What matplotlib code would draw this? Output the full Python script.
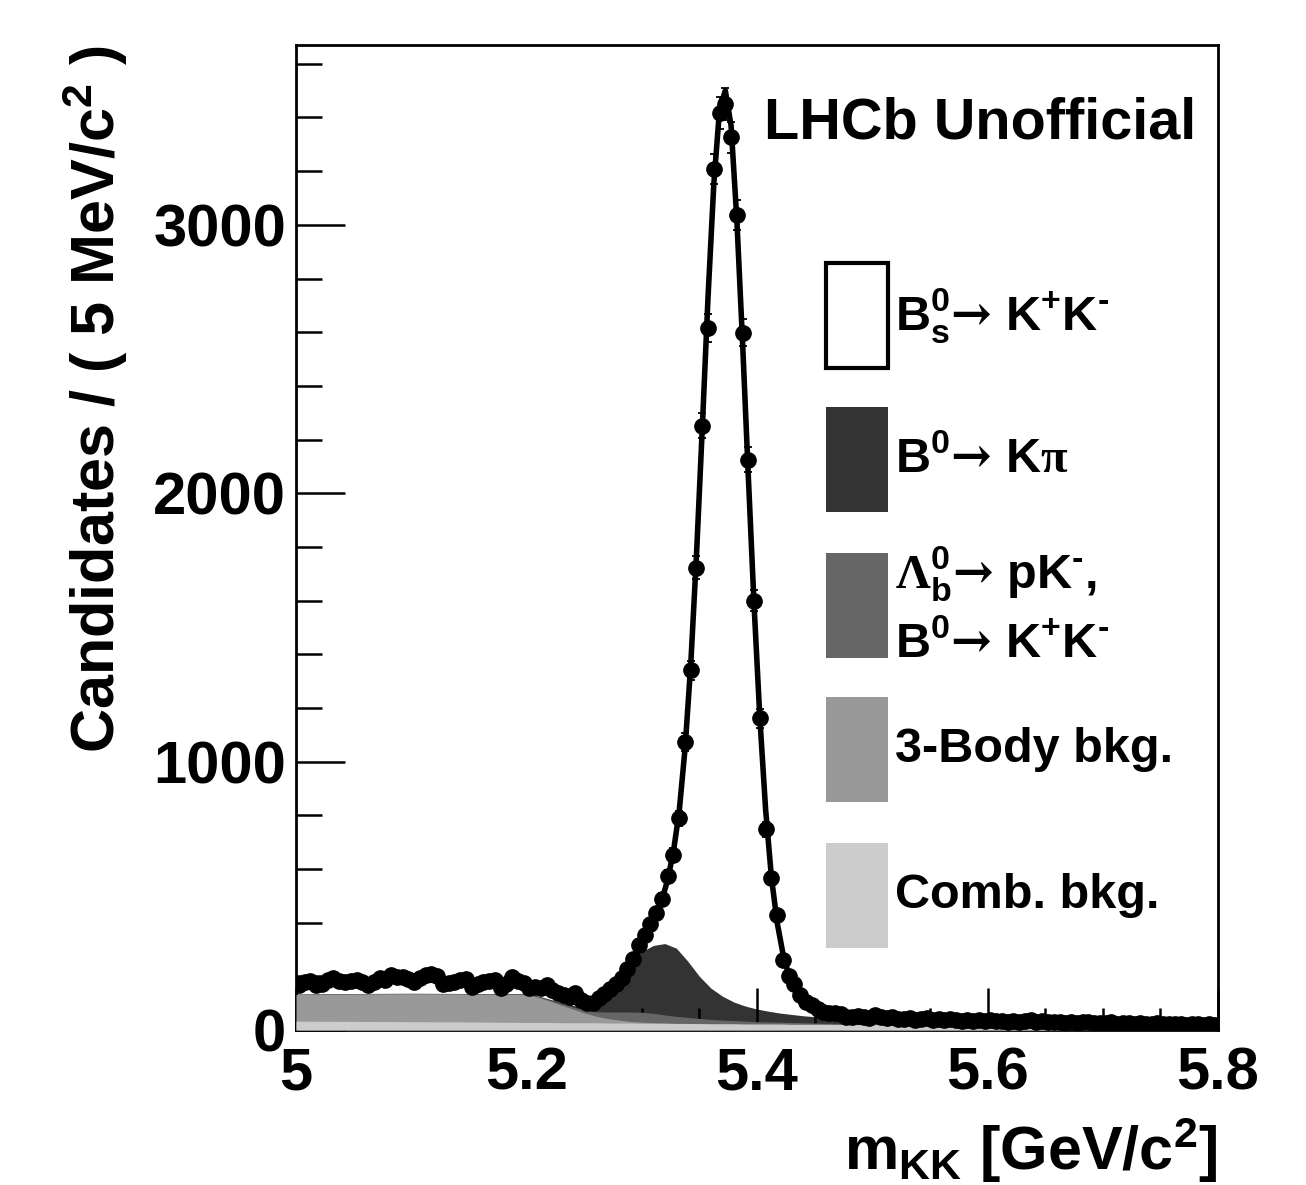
import numpy as np
import matplotlib
matplotlib.use("Agg")
import matplotlib.pyplot as plt
from matplotlib.patches import Rectangle
from matplotlib.ticker import MultipleLocator, FuncFormatter

plt.rcParams['font.family'] = ['Liberation Sans', 'DejaVu Sans']
plt.rcParams['font.weight'] = 'bold'
plt.rcParams['mathtext.fontset'] = 'custom'
plt.rcParams['mathtext.default'] = 'rm'
plt.rcParams['mathtext.rm'] = 'Liberation Sans:bold'
plt.rcParams['mathtext.it'] = 'Liberation Sans:bold'
plt.rcParams['mathtext.bf'] = 'Liberation Sans:bold'
plt.rcParams['mathtext.cal'] = 'Liberation Serif'
plt.rcParams['mathtext.sf'] = 'DejaVu Serif'

# data: candidates per 5 MeV bin, 5.0 - 5.8 GeV (160 bins)
bin_lo = 5.0
bin_w = 0.005
counts = [
    167, 178, 182, 168, 172, 185, 193, 184, 179, 183,
    186, 180, 167, 178, 193, 186, 205, 196, 197, 190,
    179, 195, 205, 207, 200, 172, 175, 180, 186, 190,
    160, 170, 179, 183, 186, 156, 170, 197, 182, 175,
    156, 162, 156, 167, 150, 138, 130, 123, 138, 112,
    100, 102, 120, 135, 152, 172, 195, 227, 264, 316,
    354, 394, 435, 488, 573, 651, 789, 1072, 1340, 1723,
    2252, 2616, 3208, 3416, 3450, 3327, 3037, 2598, 2125, 1600,
    1161, 748, 566, 428, 261, 200, 171, 130, 104, 92,
    80, 67, 65, 63, 58, 50, 47, 52, 48, 45,
    55, 47, 44, 48, 42, 40, 45, 39, 41, 43,
    38, 40, 36, 42, 37, 35, 39, 34, 37, 33,
    36, 32, 35, 31, 34, 30, 33, 36, 29, 32,
    30, 28, 31, 27, 30, 26, 29, 28, 25, 27,
    26, 29, 24, 27, 25, 23, 26, 24, 22, 25,
    23, 21, 24, 22, 20, 23, 21, 19, 22, 20,
]

# total fit curve
fit_x_lo = [5.00, 5.05, 5.10, 5.15, 5.18, 5.20, 5.22]
fit_lo = [181, 184, 186, 184, 178, 168, 152]
fit_k_first = 46  # fit_mid is given at bin centres 46..90
fit_mid = [
    135, 124, 114, 106, 102, 104, 113, 130, 152, 177,
    205, 234, 266, 303, 343, 385, 430, 485, 560, 665,
    815, 1045, 1360, 1770, 2240, 2730, 3150, 3430, 3500, 3370,
    3020, 2560, 2060, 1580, 1160, 820, 570, 400, 285, 205,
    155, 122, 100, 86, 76,
]
fit_x_hi = [5.46, 5.47, 5.48, 5.50, 5.55, 5.60, 5.65, 5.70, 5.75, 5.80]
fit_hi = [66, 58, 53, 47, 40, 34, 30, 26, 23, 20]

# stacked background components (cumulative levels)
comp_x = [5.00, 5.05, 5.10, 5.15, 5.20, 5.21, 5.22, 5.23, 5.24, 5.25,
          5.26, 5.27, 5.28, 5.29, 5.30, 5.31, 5.32, 5.33, 5.34, 5.35,
          5.36, 5.37, 5.38, 5.39, 5.40, 5.41, 5.42, 5.43, 5.44, 5.46,
          5.48, 5.50, 5.55, 5.60, 5.65, 5.70, 5.75, 5.80]
comb_level = [33, 32, 31, 30, 28, 28, 28, 27, 27, 27,
              27, 26, 26, 26, 25, 25, 25, 24, 24, 24,
              23, 23, 23, 22, 22, 22, 22, 21, 21, 21,
              20, 20, 19, 18, 17, 16, 15, 14]
threebody_level = [132, 134, 135, 134, 132, 122, 108, 93, 78, 64,
                   52, 43, 37, 32, 29, 27, 26, 25, 24.5, 24,
                   23, 23, 23, 22, 22, 22, 22, 21, 21, 21,
                   20, 20, 19, 18, 17, 16, 15, 14]
lambdab_level = [133, 135, 136, 135, 134, 125, 112, 99, 86, 75,
                 68, 67, 67, 67, 66, 62, 56, 51, 47, 43,
                 39, 37, 35, 33, 31, 30, 29, 28, 27, 25,
                 24, 23, 21, 19.5, 18, 16.5, 15.3, 14.2]
kpi_level = [134, 136, 137, 136, 135, 127, 115, 103, 92, 82,
             102, 148, 200, 252, 292, 315, 322, 305, 256, 200,
             156, 126, 104, 89, 78, 70, 63, 58, 53, 46,
             41, 37, 30, 25, 21.5, 18.5, 16.5, 15]

arrow = r'\mathsf{→}'
legend_labels = [
    r'$B^{0}_{s}' + arrow + r'$ $K^{+}K^{\text{-}}$',
    r'$B^{0}' + arrow + r'$ $K\mathcal{\pi}$',
    r'$\mathcal{\Lambda}^{0}_{b}' + arrow + r'$ $pK^{\text{-}}$,' + '\n'
    + r'$B^{0}' + arrow + r'$ $K^{+}K^{\text{-}}$',
    '3-Body bkg.',
    'Comb. bkg.',
]
legend_colors = ['white', '#333333', '#666666', '#999999', '#cccccc']

W, H = 1306, 1185
fig = plt.figure(figsize=(W / 100, H / 100), dpi=100)
ax = fig.add_axes([296 / W, (H - 1030) / H, 922 / W, 985 / H])

counts = np.array(counts, dtype=float)
centres = bin_lo + bin_w * (np.arange(len(counts)) + 0.5)

fit_x = np.concatenate([fit_x_lo, centres[fit_k_first:fit_k_first + len(fit_mid)], fit_x_hi])
fit_y = np.concatenate([fit_lo, fit_mid, fit_hi])

ax.fill_between(comp_x, 0, kpi_level, color='#333333', lw=0, zorder=1)
ax.fill_between(comp_x, 0, lambdab_level, color='#666666', lw=0, zorder=2)
ax.fill_between(comp_x, 0, threebody_level, color='#999999', lw=0, zorder=3)
ax.fill_between(comp_x, 0, comb_level, color='#cccccc', lw=0, zorder=4)

ax.plot(fit_x, fit_y, color='black', lw=4, zorder=5, solid_joinstyle='round')
ax.errorbar(centres, counts, yerr=np.sqrt(counts), fmt='o', color='black',
            ms=11, elinewidth=1.3, capsize=3, capthick=1.3, zorder=6)

ax.set_xlim(5.0, 5.8)
ax.set_ylim(0, 3670)

ax.xaxis.set_major_locator(MultipleLocator(0.2))
ax.xaxis.set_minor_locator(MultipleLocator(0.05))
ax.yaxis.set_major_locator(MultipleLocator(1000))
ax.yaxis.set_minor_locator(MultipleLocator(200))
ax.xaxis.set_major_formatter(FuncFormatter(lambda v, p: '%g' % round(v, 2)))
ax.yaxis.set_major_formatter(FuncFormatter(lambda v, p: '%d' % v))
ax.tick_params(axis='both', which='both', direction='in', width=1.8,
               labelsize=43, top=False, right=False)
ax.tick_params(axis='x', which='major', length=30, pad=12)
ax.tick_params(axis='x', which='minor', length=16)
ax.tick_params(axis='y', which='major', length=35, pad=7)
ax.tick_params(axis='y', which='minor', length=19)
for s in ax.spines.values():
    s.set_linewidth(2)

ax.set_ylabel('Candidates / ( 5 MeV/c$^{2}$ )', fontsize=44, fontweight='bold')
ax.yaxis.set_label_coords(-0.18, 1.0)
ax.yaxis.label.set_horizontalalignment('right')
ax.set_xlabel('m$_{KK}$ [GeV/c$^{2}$]', fontsize=44, fontweight='bold')
ax.xaxis.set_label_coords(1.0, -0.087)
ax.xaxis.label.set_horizontalalignment('right')

ax.text(0.508, 0.905, 'LHCb Unofficial', transform=ax.transAxes,
        fontsize=41.5, fontweight='bold', ha='left', va='baseline')

# legend drawn by hand, ROOT style
box_x, box_w, box_h = 0.575, 0.067, 0.1066
box_bottoms = [0.672, 0.526, 0.378, 0.2315, 0.0832]
for lab, col, yb in zip(legend_labels, legend_colors, box_bottoms):
    ax.add_patch(Rectangle((box_x, yb), box_w, box_h, transform=ax.transAxes,
                           facecolor=col, edgecolor='black' if col == 'white' else col,
                           lw=3 if col == 'white' else 0, zorder=7))
    ax.text(box_x + box_w + 0.008, yb + box_h / 2, lab, transform=ax.transAxes,
            fontsize=35, fontweight='bold', ha='left', va='center',
            linespacing=1.5, zorder=7)

fig.savefig('out.png', dpi=100)
